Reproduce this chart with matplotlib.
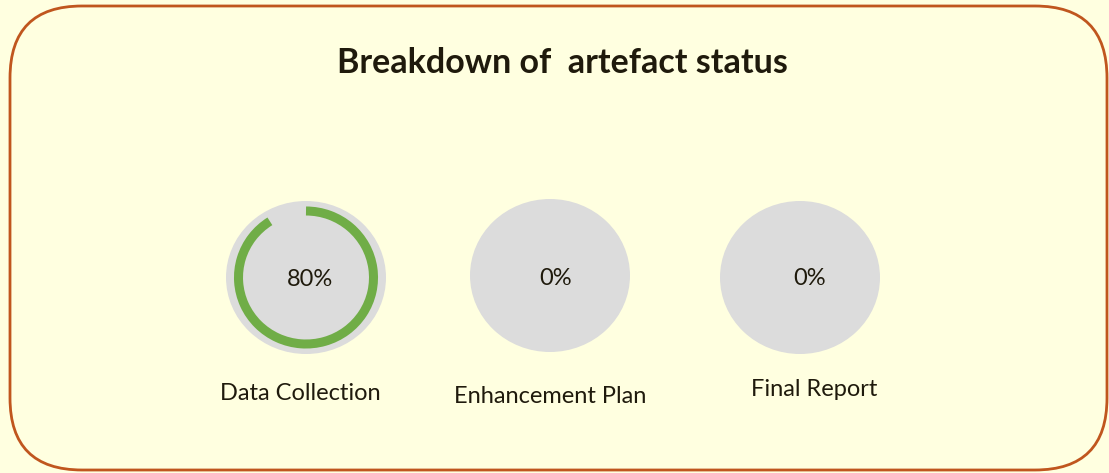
import matplotlib.pyplot as plt
from matplotlib.patches import Ellipse, Arc, FancyBboxPatch

# data
categories = ['Data Collection', 'Enhancement Plan', 'Final Report']
percent_done = [80, 0, 0]
gauge_max = 88  # ring in the original fills a bit more than value/100

# layout (pixel coords)
cx = [306, 550, 800]
cy = [277.5, 275.5, 277.5]
text_dx = [4, 6, 10]
text_y = [279, 278, 278]
label_x = [300, 550, 814]
label_y = [393, 396, 389]

bg = '#FFFFE0'
txt = '#1F1A0C'
plt.rcParams['font.family'] = ['Lato', 'DejaVu Sans']

fig = plt.figure(figsize=(11.09, 4.73), dpi=100, facecolor=bg)
ax = fig.add_axes([0, 0, 1, 1])
ax.set_xlim(0, 1109)
ax.set_ylim(473, 0)
ax.axis('off')

box = FancyBboxPatch((10, 6), 1097, 464, boxstyle='round,pad=0,rounding_size=72',
                     facecolor=bg, edgecolor='#C0561E', linewidth=2)
ax.add_patch(box)

ax.text(562, 63, 'Breakdown of  artefact status', ha='center', va='center',
        fontsize=24.5, fontweight='bold', color=txt)

for i, name in enumerate(categories):
    ax.add_patch(Ellipse((cx[i], cy[i]), 160, 153, facecolor='#DCDCDC', edgecolor='none'))
    if percent_done[i] > 0:
        extent = percent_done[i] / gauge_max * 360
        # y axis is flipped, so -90 is the top and angles run clockwise on screen
        ax.add_patch(Arc((cx[i], cy[i]), 135, 133, theta1=-90, theta2=-90 + extent,
                         color='#70AD47', linewidth=6.5, capstyle='butt'))
    ax.text(cx[i] + text_dx[i], text_y[i], f'{percent_done[i]}%', ha='center', va='center',
            fontsize=17, color=txt)
    ax.text(label_x[i], label_y[i], name, ha='center', va='center', fontsize=17, color=txt)

fig.savefig('out.png', dpi=100, facecolor=bg)
